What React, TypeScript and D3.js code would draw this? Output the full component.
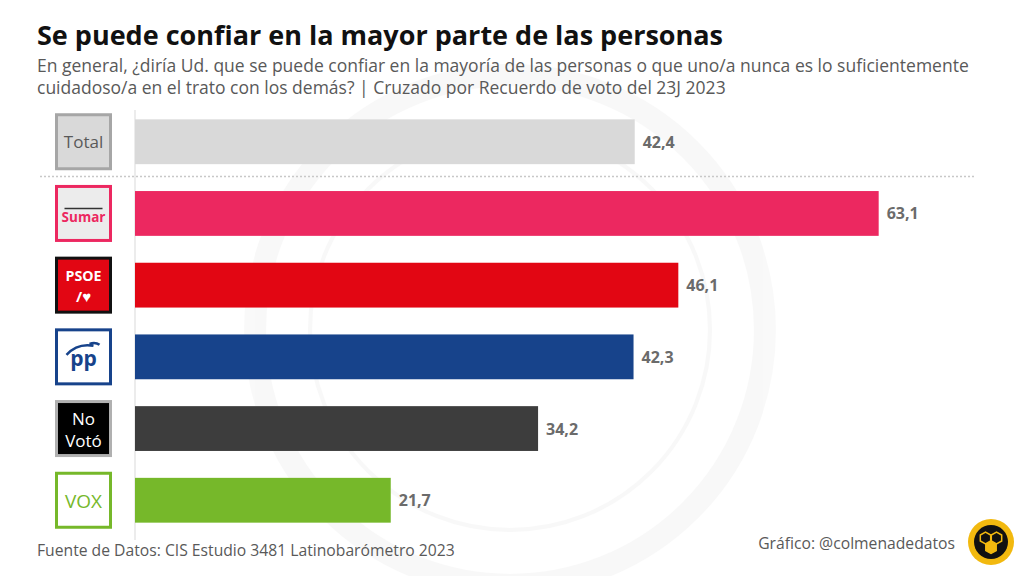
import { useEffect, useRef } from 'react'
import * as d3 from 'd3'

const categories = ['Total', 'Sumar', 'PSOE', 'PP', 'No Votó', 'VOX']
const values = [42.4, 63.1, 46.1, 42.3, 34.2, 21.7]
const barColors = ['#d9d9d9', '#ec2860', '#e20613', '#17438b', '#3d3d3d', '#76b82a']

const W = 1024
const H = 576
const FONT = '"Open Sans", "Noto Sans", sans-serif'

export default function App() {
  const svgRef = useRef<SVGSVGElement>(null)

  useEffect(() => {
    if (!svgRef.current) return
    const svg = d3.select(svgRef.current)
    svg.selectAll('*').remove()

    const x = d3.scaleLinear([0, 70], [135, 960])
    const y = d3.scaleBand<string>()
      .domain(categories)
      .range([105, 537])
      .paddingInner(0.375)
      .paddingOuter(0.2)

    svg.append('rect').attr('width', W).attr('height', H).attr('fill', '#fff')

    // faint watermark
    const wm = svg.append('g').attr('opacity', 0.025)
    wm.append('circle').attr('cx', 510).attr('cy', 330).attr('r', 255)
      .attr('fill', 'none').attr('stroke', '#000').attr('stroke-width', 22)
    wm.append('circle').attr('cx', 510).attr('cy', 330).attr('r', 200)
      .attr('fill', 'none').attr('stroke', '#000').attr('stroke-width', 4)

    // titles
    svg.append('text').attr('x', 37).attr('y', 45)
      .attr('font-family', FONT).attr('font-weight', 700).attr('font-size', 27)
      .attr('fill', '#111').text('Se puede confiar en la mayor parte de las personas')
    const sub = [
      'En general, ¿diría Ud. que se puede confiar en la mayoría de las personas o que uno/a nunca es lo suficientemente',
      'cuidadoso/a en el trato con los demás? | Cruzado por Recuerdo de voto del 23J 2023'
    ]
    sub.forEach((s, i) => {
      svg.append('text').attr('x', 37).attr('y', 72 + i * 22)
        .attr('font-family', FONT).attr('font-size', 17.5).attr('fill', '#595959').text(s)
    })

    // axis line
    svg.append('line').attr('x1', x(0)).attr('x2', x(0)).attr('y1', 110).attr('y2', 540)
      .attr('stroke', '#e6e6e6').attr('stroke-width', 1.5)

    // separator
    svg.append('line').attr('x1', 40).attr('x2', 975).attr('y1', 176.5).attr('y2', 176.5)
      .attr('stroke', '#c8c8c8').attr('stroke-width', 1.5).attr('stroke-dasharray', '2,2')

    // bars
    svg.append('g').selectAll('rect')
      .data(categories)
      .join('rect')
      .attr('x', x(0))
      .attr('y', d => y(d)!)
      .attr('width', (d, i) => x(values[i]) - x(0))
      .attr('height', y.bandwidth())
      .attr('fill', (d, i) => barColors[i])

    svg.append('g').selectAll('text')
      .data(categories)
      .join('text')
      .attr('x', (d, i) => x(values[i]) + 8)
      .attr('y', d => y(d)! + y.bandwidth() / 2 + 6)
      .attr('font-family', FONT).attr('font-weight', 700).attr('font-size', 16)
      .attr('fill', '#6b6b6b')
      .text((d, i) => d3.format('.1f')(values[i]).replace('.', ','))

    // party icons
    const icons = [
      { stroke: '#a6a6a6', fill: '#d9d9d9' },
      { stroke: '#ec2860', fill: '#ececec' },
      { stroke: '#111', fill: '#e20613' },
      { stroke: '#17438b', fill: '#fff' },
      { stroke: '#b0b0b0', fill: '#000' },
      { stroke: '#76b82a', fill: '#fff' }
    ]
    categories.forEach((c, i) => {
      const cy = y(c)! + y.bandwidth() / 2
      const g = svg.append('g').attr('transform', `translate(83.5,${cy})`)
      g.append('rect').attr('x', -27).attr('y', -27).attr('width', 54).attr('height', 54)
        .attr('fill', icons[i].fill).attr('stroke', icons[i].stroke).attr('stroke-width', 3)
      const t = (txt: string, dy: number, size: number, fill: string, weight = 400) =>
        g.append('text').attr('y', dy).attr('text-anchor', 'middle')
          .attr('font-family', FONT).attr('font-size', size).attr('font-weight', weight)
          .attr('fill', fill).text(txt)
      if (i === 0) t('Total', 6, 17, '#595959')
      if (i === 1) {
        g.append('line').attr('x1', -19).attr('x2', 19).attr('y1', -5).attr('y2', -5)
          .attr('stroke', '#333').attr('stroke-width', 1.5)
        t('Sumar', 9, 13.5, '#ec2860', 700)
      }
      if (i === 2) {
        g.append('text').attr('y', -4).attr('text-anchor', 'middle')
          .attr('font-family', FONT).attr('font-size', 13.5).attr('font-weight', 700)
          .attr('fill', '#fff').attr('textLength', 36).attr('lengthAdjust', 'spacingAndGlyphs')
          .text('PSOE')
        t('/♥', 17, 15, '#fff', 700)
      }
      if (i === 3) {
        g.append('path').attr('d', 'M-17,-2 Q-6,-14 10,-11 M6,-13 Q12,-15 16,-12')
          .attr('fill', 'none').attr('stroke', '#17438b').attr('stroke-width', 2.5)
        t('pp', 9, 21, '#17438b', 700)
      }
      if (i === 4) {
        t('No', -4, 17, '#fff')
        t('Votó', 18, 17, '#fff')
      }
      if (i === 5) t('VOX', 8, 19, '#76b82a', 400)
    })

    // footer
    svg.append('text').attr('x', 37).attr('y', 556)
      .attr('font-family', FONT).attr('font-size', 15.7).attr('fill', '#595959')
      .text('Fuente de Datos: CIS Estudio 3481 Latinobarómetro 2023')
    svg.append('text').attr('x', 955).attr('y', 549).attr('text-anchor', 'end')
      .attr('font-family', FONT).attr('font-size', 15.7).attr('fill', '#595959')
      .text('Gráfico: @colmenadedatos')

    const logo = svg.append('g').attr('transform', 'translate(991,542)')
    logo.append('circle').attr('r', 23).attr('fill', '#f2b90f')
    logo.append('circle').attr('r', 17).attr('fill', '#111')
    const hex = d3.range(6).map(k => {
      const a = Math.PI / 6 + k * Math.PI / 3
      return [6 * Math.cos(a), 6 * Math.sin(a)]
    })
    const hexPath = 'M' + hex.map(p => p.join(',')).join('L') + 'Z'
    ;[[-5.5, -4, '#111'], [5.5, -4, '#111'], [0, 5.5, '#f2b90f']].forEach(([hx, hy, f]) => {
      logo.append('path').attr('d', hexPath).attr('transform', `translate(${hx},${hy})`)
        .attr('fill', f as string).attr('stroke', '#f2b90f').attr('stroke-width', 1.5)
    })
  }, [])

  return (
    <svg ref={svgRef} width={W} height={H}
      style={{ display: 'block', position: 'absolute', left: 0, top: 0 }} />
  )
}
